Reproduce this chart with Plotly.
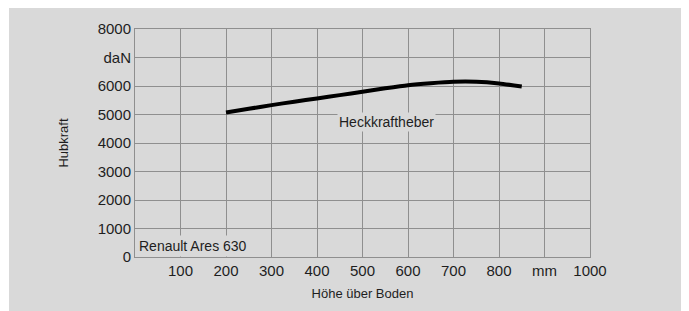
import plotly.graph_objects as go

# Data
hoehe_mm = [200, 250, 300, 350, 400, 450, 500, 550, 600, 650, 700, 750, 800, 850]
hubkraft_daN = [5070, 5200, 5330, 5450, 5560, 5680, 5800, 5920, 6030, 6100, 6150, 6150, 6090, 5980]

x_tickvals = [0, 100, 200, 300, 400, 500, 600, 700, 800, 900, 1000]
x_ticktext = ["", "100", "200", "300", "400", "500", "600", "700", "800", "mm", "1000"]
y_tickvals = [0, 1000, 2000, 3000, 4000, 5000, 6000, 7000, 8000]
y_ticktext = ["0", "1000", "2000", "3000", "4000", "5000", "6000", "daN", "8000"]

BG = "#d9d9d9"
GRID = "#8f8f8f"
TXT = "#1e1e1e"
FONT = "Liberation Sans, Arial, sans-serif"

# page body has an 8px margin, so the figure is sized to fill the rest
W, H = 681, 303
L, T = 127, 21
pw, ph = 455, 228
R, B = W - L - pw, H - T - ph

fig = go.Figure()
fig.add_trace(go.Scatter(
    x=hoehe_mm, y=hubkraft_daN, mode="lines",
    line=dict(color="#000000", width=4, shape="spline", smoothing=0.6),
    showlegend=False, hoverinfo="skip",
))

axis_common = dict(
    showgrid=True, gridcolor=GRID, gridwidth=1,
    showline=True, linecolor=GRID, linewidth=1, mirror=True,
    zeroline=False, ticks="", tickfont=dict(family=FONT, size=15, color=TXT),
)

fig.update_layout(
    width=W, height=H,
    margin=dict(l=L, r=R, t=T, b=B, pad=0),
    paper_bgcolor="white", plot_bgcolor=BG,
    font=dict(family=FONT, color=TXT),
    xaxis=dict(range=[0, 1000], tickmode="array", tickvals=x_tickvals, ticktext=x_ticktext,
               title=dict(text="Höhe über Boden", font=dict(family=FONT, size=13, color=TXT), standoff=10),
               **axis_common),
    yaxis=dict(range=[0, 8000], tickmode="array", tickvals=y_tickvals, ticktext=y_ticktext,
               title=dict(text="Hubkraft", font=dict(family=FONT, size=13, color=TXT), standoff=26),
               **axis_common),
    shapes=[dict(type="rect", xref="paper", yref="paper", layer="below",
                 x0=(1 - L) / pw, x1=(678 - L) / pw, y0=-(B + 2) / ph, y1=(ph + T + 2) / ph,
                 fillcolor=BG, line=dict(width=0))],
    annotations=[
        dict(x=552, y=4737, xref="x", yref="y", text="Heckkraftheber", showarrow=False,
             font=dict(family=FONT, size=14, color=TXT), bgcolor=BG, borderpad=1),
        dict(x=0, y=386, xref="x", yref="y", text="Renault Ares 630", showarrow=False,
             xanchor="left", xshift=1,
             font=dict(family=FONT, size=14, color=TXT), bgcolor=BG, borderpad=2),
    ],
)

fig.write_html("out.html")
